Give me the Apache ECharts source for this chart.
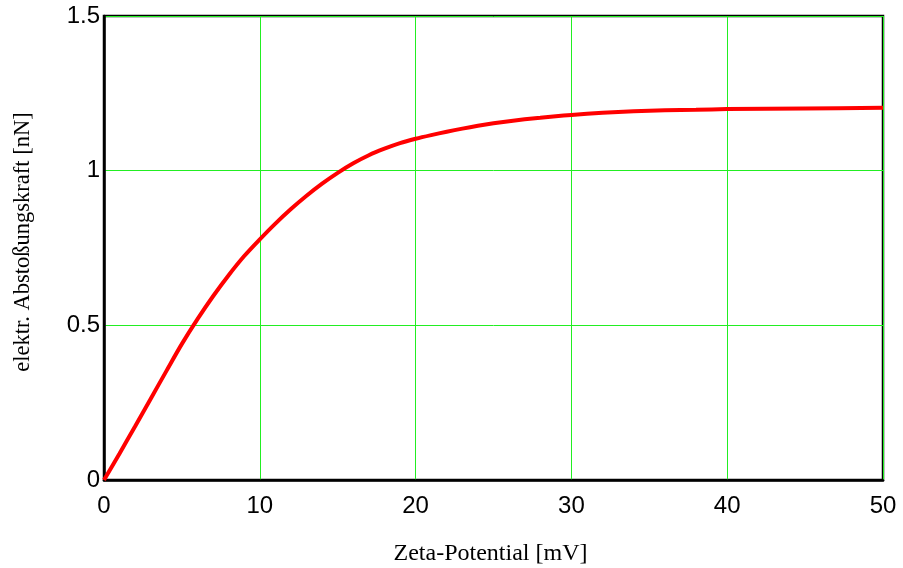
<!DOCTYPE html>
<html>
<head>
<meta charset="utf-8">
<script src="https://cdn.jsdelivr.net/npm/echarts@6/dist/echarts.min.js"></script>
<style>html,body{margin:0;padding:0;background:#fff;}#c{width:903px;height:568px;}</style>
</head>
<body>
<div id="c"></div>
<script>
var zeta = [0, 1, 2, 3, 4, 5, 6, 7, 8, 9, 10, 11, 12, 13, 14, 15, 16, 17, 18, 19, 20, 21, 22, 23, 24, 25, 26, 27, 28, 29, 30, 32, 34, 36, 38, 40, 45, 50];
var force = [0, 0.086, 0.174, 0.263, 0.352, 0.440, 0.520, 0.594, 0.662, 0.724, 0.778, 0.829, 0.876, 0.919, 0.958, 0.993, 1.024, 1.050, 1.071, 1.089, 1.103, 1.115, 1.126, 1.136, 1.145, 1.153, 1.160, 1.166, 1.171, 1.176, 1.180, 1.187, 1.192, 1.195, 1.197, 1.199, 1.201, 1.203];
var xTicks = [0, 10, 20, 30, 40, 50];
var yTicks = [0, 0.5, 1, 1.5];
var xTitle = 'Zeta-Potential [mV]';
var yTitle = 'elektr. Abstoßungskraft [nN]';

var pts = zeta.map(function (x, i) { return [x, force[i]]; });
var chart = echarts.init(document.getElementById('c'), null, {renderer: 'canvas'});
chart.setOption({
  animation: false,
  backgroundColor: '#fff',
  grid: {left: 104, right: 20, top: 16, bottom: 88, show: true, borderColor: '#000', borderWidth: 2.5,
    backgroundColor: 'transparent', containLabel: false, outerBoundsMode: 'none'},
  xAxis: {
    type: 'value', min: xTicks[0], max: xTicks[xTicks.length - 1], interval: 10,
    name: xTitle, nameLocation: 'middle', nameGap: 62,
    nameTextStyle: {fontFamily: 'Liberation Serif', fontSize: 24, color: '#000', padding: [0, 6, 0, 0]},
    axisLine: {show: true, lineStyle: {color: '#000', width: 2.5}},
    axisTick: {show: false},
    axisLabel: {fontFamily: 'Liberation Sans', fontSize: 24, color: '#000', margin: 14,
      formatter: function (v) { return xTicks.indexOf(v) >= 0 ? String(v) : ''; }},
    splitLine: {show: true, lineStyle: {color: '#22ee22', width: 1}}
  },
  yAxis: {
    type: 'value', min: yTicks[0], max: yTicks[yTicks.length - 1], interval: 0.5,
    name: yTitle, nameLocation: 'middle', nameGap: 69,
    nameTextStyle: {fontFamily: 'Liberation Serif', fontSize: 22.5, color: '#000', padding: [0, 0, 0, 12]},
    axisLine: {show: true, lineStyle: {color: '#000', width: 2.5}},
    axisTick: {show: false},
    axisLabel: {fontFamily: 'Liberation Sans', fontSize: 24, color: '#000', margin: 4, padding: [12, 0, 0, 0],
      formatter: function (v) { return yTicks.indexOf(v) >= 0 ? String(v) : ''; }},
    splitLine: {show: true, lineStyle: {color: '#22ee22', width: 1}}
  },
  series: [{
    type: 'line', data: pts, showSymbol: false, smooth: 0.3,
    lineStyle: {color: '#ff0000', width: 4}, clip: false
  }]
});
</script>
</body>
</html>
